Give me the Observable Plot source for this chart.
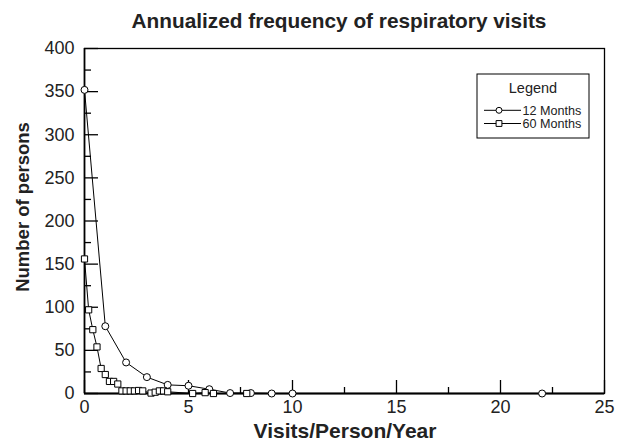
<!DOCTYPE html>
<html>
<head>
<meta charset="utf-8">
<script src="https://cdn.jsdelivr.net/npm/d3@7"></script>
<script src="https://cdn.jsdelivr.net/npm/@observablehq/plot@0.6"></script>
<style>
  html, body { margin: 0; padding: 0; background: #fff; }
  #chart { width: 618px; height: 443px; }
</style>
</head>
<body>
<div id="chart"></div>
<script>
// ---- data ----
const titleText = "Annualized frequency of respiratory visits";
const xLabel = "Visits/Person/Year";
const yLabel = "Number of persons";
const legendTitle = "Legend";
const series = ["12 Months", "60 Months"];

const x12 = [0, 1, 2, 3, 4, 5, 6, 7, 8, 9, 10, 22];
const y12 = [352, 78, 36, 19, 10, 9, 5, 0.5, 0.5, 0, 0, 0];

const x60 = [0, 0.2, 0.4, 0.6, 0.8, 1.0, 1.2, 1.4, 1.6, 1.8, 2.0, 2.2, 2.4, 2.6, 2.8, 3.2, 3.4, 3.6, 3.8, 4.0, 5.2, 5.8, 6.2, 7.8];
const y60 = [156, 97, 74, 54, 29, 22, 14, 14, 11, 3, 3, 3, 3, 3.5, 3, 0.5, 1.5, 3, 3, 2, 0, 1, 0, 0];

const xDomain = [0, 25];
const yDomain = [0, 400];
const xMajor = [0, 5, 10, 15, 20, 25];
const xMinor = [2.5, 7.5, 12.5, 17.5, 22.5];
const yMajor = [0, 50, 100, 150, 200, 250, 300, 350, 400];
const yMinor = [25, 75, 125, 175, 225, 275, 325, 375];

const rows = [
  ...x12.map((x, i) => ({x, y: y12[i], s: series[0]})),
  ...x60.map((x, i) => ({x, y: y60[i], s: series[1]}))
];

const font = "'Liberation Sans', Arial, Helvetica, sans-serif";
const blank = () => "";

const plot = Plot.plot({
  width: 618,
  height: 443,
  marginLeft: 84,
  marginRight: 14,
  marginTop: 48,
  marginBottom: 50,
  style: {fontFamily: font, background: "#fff", color: "#000"},
  x: {domain: xDomain, label: null},
  y: {domain: yDomain, label: null},
  symbol: {domain: series, range: ["circle", "square"]},
  marks: [
    Plot.frame({stroke: "#000", strokeWidth: 1.3}),
    Plot.ruleY([yDomain[0]], {stroke: "#000", strokeWidth: 2}),
    Plot.ruleX([xDomain[0]], {stroke: "#000", strokeWidth: 1.6}),
    Plot.axisX({ticks: xMajor, tickSize: -13, tickFormat: blank, label: null, strokeWidth: 1.3}),
    Plot.axisX({ticks: xMinor, tickSize: -6, tickFormat: blank, label: null, strokeWidth: 1.3}),
    Plot.axisX({ticks: xMajor, tickSize: 0, tickPadding: 7, fontSize: 18, label: null, tickFormat: d3.format("d")}),
    Plot.axisY({ticks: yMajor, tickSize: -14, tickFormat: blank, label: null, strokeWidth: 1.3}),
    Plot.axisY({ticks: yMinor, tickSize: -7, tickFormat: blank, label: null, strokeWidth: 1.3}),
    Plot.axisY({ticks: yMajor, tickSize: 0, tickPadding: 10, fontSize: 18, label: null, tickFormat: d3.format("d")}),
    Plot.line(rows, {x: "x", y: "y", z: "s", stroke: "#000", strokeWidth: 1}),
    Plot.dot(rows, {x: "x", y: "y", symbol: "s", r: 3.5, fill: "#fff", stroke: "#000", strokeWidth: 1})
  ]
});

document.getElementById("chart").appendChild(plot);

const svg = d3.select(plot);
svg.selectAll("g[aria-label$='tick label']")
  .attr("font-size", 18).style("font-size", "18px").attr("fill", "#222");
svg.selectAll("g[aria-label$='tick label'] text")
  .attr("font-size", 18).style("font-size", "18px");

// ---- titles and legend ----
svg.append("text")
  .attr("x", 339).attr("y", 28)
  .attr("text-anchor", "middle")
  .attr("font-family", font).attr("font-weight", "bold").attr("font-size", 20.8)
  .attr("fill", "#222")
  .text(titleText);

svg.append("text")
  .attr("x", 345).attr("y", 438)
  .attr("text-anchor", "middle")
  .attr("font-family", font).attr("font-weight", "bold").attr("font-size", 21)
  .attr("fill", "#222")
  .text(xLabel);

svg.append("text")
  .attr("transform", "translate(29,207) rotate(-90)")
  .attr("text-anchor", "middle")
  .attr("font-family", font).attr("font-weight", "bold").attr("font-size", 18.5)
  .attr("fill", "#222")
  .text(yLabel);

const lg = svg.append("g").attr("font-family", font).attr("fill", "#222").attr("text-anchor", "start");
lg.append("rect")
  .attr("x", 477).attr("y", 74).attr("width", 112).attr("height", 64)
  .attr("fill", "#fff").attr("stroke", "#000").attr("stroke-width", 1);
lg.append("text")
  .attr("x", 533).attr("y", 93).attr("text-anchor", "middle")
  .attr("font-size", 14.5).text(legendTitle);
const symbols = [d3.symbolCircle, d3.symbolSquare];
series.forEach((name, i) => {
  const cy = 110.3 + i * 13.2;
  lg.append("line").attr("x1", 484).attr("x2", 521).attr("y1", cy).attr("y2", cy)
    .attr("stroke", "#000").attr("stroke-width", 1);
  lg.append("path")
    .attr("transform", `translate(499,${cy})`)
    .attr("d", d3.symbol(symbols[i], i === 0 ? 28 : 34)())
    .attr("fill", "#fff").attr("stroke", "#000").attr("stroke-width", 1);
  lg.append("text").attr("x", 522.5).attr("y", cy + 4.4)
    .attr("text-anchor", "start")
    .attr("font-size", 12.6).text(name);
});
</script>
</body>
</html>
